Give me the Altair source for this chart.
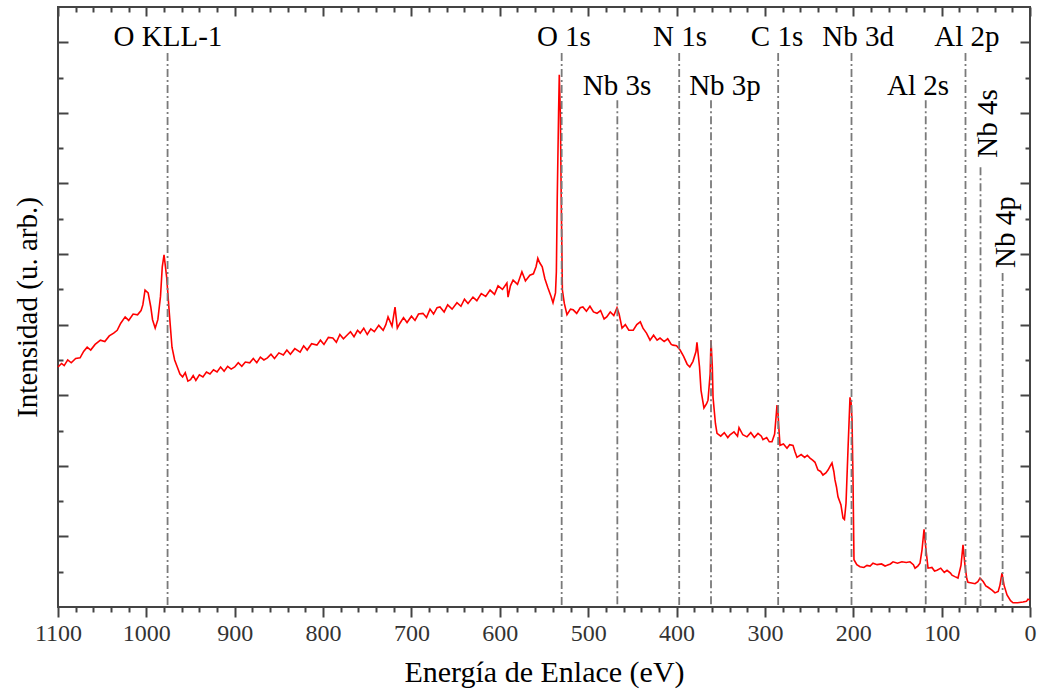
import altair as alt
import pandas as pd

# ---- spectrum (binding energy eV, intensity a.u.) ----
energy = [1100, 1096, 1093, 1089, 1085, 1080, 1075, 1071, 1067, 1063, 1058, 1052, 1047, 1042, 1037, 1033,
          1029, 1024, 1020, 1015, 1010, 1006, 1004, 1001.5, 998, 995, 993, 990, 987, 984, 982, 980, 977,
          974, 971, 968, 965, 962, 959, 956, 953, 950, 947, 944, 940, 936, 932, 928, 924, 920, 916, 912,
          908, 904, 900, 896, 892, 888, 883, 879, 875, 871, 867, 863, 859, 855, 850, 845, 841, 837, 832,
          826, 822, 818, 813, 807, 803, 799, 794, 789, 785, 781, 777, 773, 769, 765, 761, 758, 754, 750,
          746, 742, 737, 732, 729, 726.5, 722, 718.6, 716, 713, 709, 705, 700, 696, 692, 687, 683, 679,
          675, 671, 667.7, 663, 659, 654, 648.5, 644, 640, 636, 630.4, 626, 621, 616, 611, 606, 602, 597,
          592, 590.7, 588, 585, 580, 575, 571, 566, 562, 559, 557, 555, 552, 549, 545.5, 542, 539.8, 537,
          536, 535, 533.5, 532.7, 531.5, 530.5, 529.2, 527, 524, 520, 517, 513, 509, 506, 502, 498, 494,
          490, 486, 482, 479, 475, 471, 467.4, 465, 461.7, 458, 454, 449, 445, 441, 438, 434, 430, 426,
          422, 418.7, 414, 410, 406, 404, 400, 396, 392, 388, 385, 381.4, 378, 376.9, 374, 372.3, 369,
          366, 364.4, 362, 361, 359.5, 358.7, 356, 354.2, 350, 346, 342, 339.5, 335, 331, 329.3, 325,
          320.3, 316, 312, 307.8, 304, 302.2, 298, 295, 292, 289, 287, 286.3, 285.2, 284.1, 282.9, 279,
          275, 272, 268.2, 266, 263.7, 259, 255, 252, 249, 246, 243.3, 240, 237, 234.3, 231, 228.6, 226,
          224.1, 222, 220.7, 219, 217.3, 214, 211.6, 210, 208.2, 206, 203.7, 202.5, 201.4, 200.3, 199.2,
          196, 192.4, 188, 184.5, 181, 177.7, 173, 168, 164, 161.8, 158, 155, 150, 145, 140, 135.8, 132,
          130.1, 127, 124.5, 122.2, 119.9, 117.7, 115.4, 111, 108, 105.2, 101, 97, 93.9, 90, 88.3, 85,
          81.5, 78.1, 75.8, 73.6, 71.5, 70.2, 66, 62.2, 59, 56.6, 53, 50, 47.5, 43, 39.6, 36, 34, 31.7,
          29.4, 26, 22, 19.2, 14, 7.9, 4, 2.3, 0]
intensity = [3.40, 3.45, 3.42, 3.50, 3.46, 3.52, 3.53, 3.62, 3.68, 3.64, 3.72, 3.78, 3.76, 3.84, 3.88, 3.92,
             4.02, 4.11, 4.06, 4.15, 4.14, 4.20, 4.28, 4.49, 4.45, 4.25, 4.07, 3.95, 4.07, 4.40, 4.82, 4.99, 4.67,
             4.16, 3.68, 3.50, 3.40, 3.30, 3.26, 3.32, 3.20, 3.22, 3.28, 3.21, 3.29, 3.26, 3.33, 3.30, 3.36, 3.33, 3.40, 3.34,
             3.41, 3.37, 3.40, 3.46, 3.41, 3.47, 3.46, 3.52, 3.46, 3.54, 3.50, 3.53, 3.58, 3.52, 3.60, 3.57, 3.64, 3.58, 3.66,
             3.61, 3.70, 3.64, 3.73, 3.71, 3.78, 3.72, 3.82, 3.81, 3.75, 3.86, 3.80, 3.85, 3.90, 3.83, 3.92, 3.88, 3.95, 3.86,
             3.94, 3.90, 3.99, 3.92, 4.00, 4.11, 3.98, 4.25, 3.95, 4.02, 4.10, 4.03, 4.12, 4.06, 4.15, 4.16, 4.10, 4.22,
             4.15, 4.24, 4.25, 4.18, 4.28, 4.22, 4.31, 4.26, 4.36, 4.30, 4.39, 4.34, 4.44, 4.40, 4.49, 4.43, 4.55, 4.50,
             4.59, 4.39, 4.55, 4.63, 4.57, 4.75, 4.62, 4.70, 4.72, 4.82, 4.94, 4.88, 4.82, 4.65, 4.52, 4.40, 4.31, 4.45,
             4.75, 5.80, 7.00, 7.54, 7.00, 5.80, 4.49, 4.30, 4.14, 4.22, 4.21, 4.16, 4.24, 4.25, 4.19, 4.26, 4.18,
             4.16, 4.20, 4.08, 4.11, 4.18, 4.13, 4.24, 4.15, 3.95, 4.00, 3.92, 3.92, 4.00, 4.04, 3.95, 3.88, 3.78, 3.85,
             3.78, 3.81, 3.76, 3.80, 3.72, 3.71, 3.70, 3.64, 3.55, 3.44, 3.40, 3.48, 3.62, 3.75, 3.40, 3.07, 2.82,
             2.88, 2.93, 3.30, 3.78, 3.40, 2.97, 2.60, 2.46, 2.42, 2.47, 2.40, 2.44, 2.48, 2.42, 2.54, 2.44,
             2.41, 2.47, 2.40, 2.46, 2.42, 2.37, 2.40, 2.34, 2.34, 2.45, 2.75, 2.86, 2.75, 2.51, 2.29, 2.31,
             2.25, 2.30, 2.29, 2.20, 2.12, 2.16, 2.12, 2.15, 2.11, 2.08, 2.05, 1.94, 1.92, 1.87, 1.90, 1.94, 2.00,
             2.04, 1.92, 1.80, 1.70, 1.56, 1.45, 1.26, 1.24, 1.47, 2.22, 2.97, 2.90, 2.65, 1.80, 0.67,
             0.60, 0.57, 0.56, 0.59, 0.58, 0.62, 0.60, 0.61, 0.58, 0.59, 0.61, 0.64, 0.62, 0.64, 0.63, 0.64, 0.60,
             0.55, 0.58, 0.62, 0.81, 1.10, 0.81, 0.55, 0.56, 0.51, 0.52, 0.55, 0.49, 0.52, 0.48, 0.45, 0.43,
             0.41, 0.59, 0.88, 0.59, 0.40, 0.35, 0.34, 0.33, 0.36, 0.41, 0.36, 0.30, 0.28, 0.24, 0.20, 0.22, 0.31, 0.48,
             0.31, 0.17, 0.09, 0.06, 0.06, 0.07, 0.08, 0.11, 0.10]

# ---- peak markers ----
peak_energy = [976, 530, 467, 397, 361, 285, 202, 118, 73, 56, 31]
peak_line_top = [7.85, 7.85, 7.18, 7.85, 7.18, 7.85, 7.85, 7.18, 7.85, 6.23, 4.73]

label_text_h = ["O KLL-1", "O 1s", "N 1s", "C 1s", "Nb 3d", "Al 2p", "Nb 3s", "Nb 3p", "Al 2s"]
label_x_h = [975.6, 527.5, 396, 286.3, 194.6, 71.3, 467.4, 345.2, 126.7]
label_y_h = [7.95, 7.95, 7.95, 7.95, 7.95, 7.95, 7.26, 7.26, 7.26]

label_text_v = ["Nb 4s", "Nb 4p"]
label_x_v = [37.3, 17.0]
label_y_v = [6.85, 5.31]

# ---- axis ticks ----
x_major = list(range(0, 1101, 100))
x_minor = [v for v in range(0, 1101, 20) if v % 100]
y_major = [1, 2, 3, 4, 5, 6, 7, 8]
y_minor = [0.5, 1.5, 2.5, 3.5, 4.5, 5.5, 6.5, 7.5]

FONT = "Liberation Serif"
AX = "#444444"

spec_df = pd.DataFrame({"E": energy, "I": intensity})
peak_df = pd.DataFrame({"E": peak_energy, "top": peak_line_top, "bottom": [0] * len(peak_energy)})
lab_h_df = pd.DataFrame({"t": label_text_h, "E": label_x_h, "y": label_y_h})
lab_v_df = pd.DataFrame({"t": label_text_v, "E": label_x_v, "y": label_y_v})

xs = alt.Scale(domain=[1100, 0], nice=False, zero=False)
ys = alt.Scale(domain=[0, 8.5], nice=False, zero=False)


def ax(orient, values, size, offset=0, **kw):
    base = dict(orient=orient, values=values, tickSize=size, offset=offset, tickColor=AX,
                tickWidth=2, domain=False, grid=False, labels=False, title=None)
    base.update(kw)
    return alt.Axis(**base)


line = alt.Chart(spec_df).mark_line(color="#ff0000", strokeWidth=1.6).encode(
    x=alt.X("E:Q", scale=xs, axis=ax(
        "bottom", x_major, 10, labels=True, labelFont=FONT, labelFontSize=24, labelColor="#333333",
        labelPadding=4, labelFlush=False, labelOverlap=False, format="d",
        title="Energía de Enlace (eV)", titleFont=FONT, titleFontSize=30, titleFontWeight="normal",
        titleColor="#000000", titlePadding=12)),
    y=alt.Y("I:Q", scale=ys, axis=ax(
        "left", y_major, 10, offset=-10,
        title="Intensidad (u. arb.)", titleFont=FONT, titleFontSize=29, titleFontWeight="normal",
        titleColor="#000000", titlePadding=15)),
)

rules = alt.Chart(peak_df).mark_rule(color="#7a7a7a", strokeWidth=1.8, strokeDash=[8, 3, 2, 3]).encode(
    x=alt.X("E:Q", scale=xs, axis=ax("bottom", x_minor, 5)),
    y=alt.Y("top:Q", scale=ys, axis=ax("left", y_minor, 5, offset=-5)),
    y2="bottom:Q",
)

texts_h = alt.Chart(lab_h_df).mark_text(font=FONT, fontSize=29, color="#000000",
                                         align="center", baseline="alphabetic").encode(
    x=alt.X("E:Q", scale=xs, axis=ax("top", x_major, 9, offset=-9)),
    y=alt.Y("y:Q", scale=ys, axis=ax("right", y_major, 10, offset=-10)),
    text="t:N",
)

texts_v = alt.Chart(lab_v_df).mark_text(font=FONT, fontSize=29, color="#000000", angle=270,
                                         align="center", baseline="alphabetic").encode(
    x=alt.X("E:Q", scale=xs, axis=ax("top", x_minor, 5, offset=-5)),
    y=alt.Y("y:Q", scale=ys, axis=ax("right", y_minor, 5, offset=-5)),
    text="t:N",
)

chart = alt.layer(line, rules, texts_h, texts_v).resolve_axis(
    x="independent", y="independent"
).properties(
    width=972, height=600,
    padding={"left": 58, "top": 7, "right": 7, "bottom": 91},
    autosize=alt.AutoSizeParams(type="none"),
    background="white",
).configure_view(stroke=AX, strokeWidth=2).configure_axis(
    labelFont=FONT, titleFont=FONT, labelFontWeight="normal", titleFontWeight="normal"
).configure_text(font=FONT)

chart.save("out.html", embed_options={"renderer": "svg", "actions": False})
